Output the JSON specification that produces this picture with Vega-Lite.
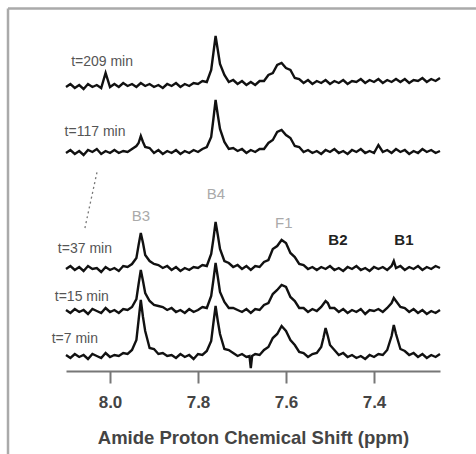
{
"$schema": "https://vega.github.io/schema/vega-lite/v6.json",
"width": 374, "height": 351,
"autosize": {"type": "none"},
"padding": {"left": 66, "top": 20, "right": 36, "bottom": 83},
"background": "white",
"config": {"view": {"stroke": null}, "font": "Liberation Sans"},
"datasets": {
"traces": [
{"s":"7","x":8.1,"y":16},{"s":"7","x":8.09,"y":13},{"s":"7","x":8.08,"y":17},{"s":"7","x":8.07,"y":14},{"s":"7","x":8.06,"y":16},{"s":"7","x":8.05,"y":12},{"s":"7","x":8.04,"y":17},{"s":"7","x":8.03,"y":15},{"s":"7","x":8.02,"y":13},{"s":"7","x":8.01,"y":18},{"s":"7","x":8.0,"y":14},{"s":"7","x":7.99,"y":16},{"s":"7","x":7.98,"y":15},{"s":"7","x":7.97,"y":18},{"s":"7","x":7.96,"y":17},{"s":"7","x":7.95,"y":21},{"s":"7","x":7.94,"y":31},{"s":"7","x":7.935,"y":51},{"s":"7","x":7.93,"y":71},{"s":"7","x":7.925,"y":54},{"s":"7","x":7.92,"y":40},{"s":"7","x":7.91,"y":23},{"s":"7","x":7.9,"y":22},{"s":"7","x":7.89,"y":17},{"s":"7","x":7.88,"y":18},{"s":"7","x":7.87,"y":15},{"s":"7","x":7.86,"y":16},{"s":"7","x":7.85,"y":13},{"s":"7","x":7.84,"y":17},{"s":"7","x":7.83,"y":14},{"s":"7","x":7.82,"y":16},{"s":"7","x":7.81,"y":12},{"s":"7","x":7.8,"y":17},{"s":"7","x":7.79,"y":16},{"s":"7","x":7.78,"y":20},{"s":"7","x":7.77,"y":30},{"s":"7","x":7.765,"y":48},{"s":"7","x":7.76,"y":65},{"s":"7","x":7.755,"y":50},{"s":"7","x":7.75,"y":37},{"s":"7","x":7.74,"y":22},{"s":"7","x":7.73,"y":21},{"s":"7","x":7.72,"y":18},{"s":"7","x":7.71,"y":15},{"s":"7","x":7.7,"y":17},{"s":"7","x":7.69,"y":14},{"s":"7","x":7.683,"y":15},{"s":"7","x":7.68,"y":3},{"s":"7","x":7.677,"y":15},{"s":"7","x":7.67,"y":17},{"s":"7","x":7.66,"y":16},{"s":"7","x":7.65,"y":21},{"s":"7","x":7.64,"y":24},{"s":"7","x":7.63,"y":33},{"s":"7","x":7.62,"y":37},{"s":"7","x":7.61,"y":45},{"s":"7","x":7.6,"y":40},{"s":"7","x":7.59,"y":31},{"s":"7","x":7.58,"y":26},{"s":"7","x":7.57,"y":19},{"s":"7","x":7.56,"y":18},{"s":"7","x":7.55,"y":14},{"s":"7","x":7.54,"y":17},{"s":"7","x":7.53,"y":18},{"s":"7","x":7.52,"y":24},{"s":"7","x":7.515,"y":33},{"s":"7","x":7.51,"y":43},{"s":"7","x":7.505,"y":35},{"s":"7","x":7.5,"y":26},{"s":"7","x":7.49,"y":21},{"s":"7","x":7.48,"y":16},{"s":"7","x":7.47,"y":18},{"s":"7","x":7.46,"y":14},{"s":"7","x":7.45,"y":16},{"s":"7","x":7.44,"y":13},{"s":"7","x":7.43,"y":15},{"s":"7","x":7.42,"y":12},{"s":"7","x":7.41,"y":16},{"s":"7","x":7.4,"y":14},{"s":"7","x":7.39,"y":17},{"s":"7","x":7.38,"y":16},{"s":"7","x":7.37,"y":21},{"s":"7","x":7.36,"y":35},{"s":"7","x":7.355,"y":46},{"s":"7","x":7.35,"y":37},{"s":"7","x":7.34,"y":22},{"s":"7","x":7.33,"y":20},{"s":"7","x":7.32,"y":16},{"s":"7","x":7.31,"y":18},{"s":"7","x":7.3,"y":14},{"s":"7","x":7.29,"y":17},{"s":"7","x":7.28,"y":13},{"s":"7","x":7.27,"y":16},{"s":"7","x":7.26,"y":14},{"s":"7","x":7.25,"y":17},
{"s":"15","x":8.1,"y":61},{"s":"15","x":8.09,"y":58},{"s":"15","x":8.08,"y":62},{"s":"15","x":8.07,"y":59},{"s":"15","x":8.06,"y":61},{"s":"15","x":8.05,"y":57},{"s":"15","x":8.04,"y":62},{"s":"15","x":8.03,"y":60},{"s":"15","x":8.02,"y":58},{"s":"15","x":8.01,"y":63},{"s":"15","x":8.0,"y":59},{"s":"15","x":7.99,"y":61},{"s":"15","x":7.98,"y":58},{"s":"15","x":7.97,"y":62},{"s":"15","x":7.96,"y":61},{"s":"15","x":7.95,"y":64},{"s":"15","x":7.94,"y":72},{"s":"15","x":7.935,"y":87},{"s":"15","x":7.93,"y":101},{"s":"15","x":7.925,"y":90},{"s":"15","x":7.92,"y":78},{"s":"15","x":7.91,"y":70},{"s":"15","x":7.9,"y":66},{"s":"15","x":7.89,"y":65},{"s":"15","x":7.88,"y":64},{"s":"15","x":7.87,"y":61},{"s":"15","x":7.86,"y":63},{"s":"15","x":7.85,"y":59},{"s":"15","x":7.84,"y":61},{"s":"15","x":7.83,"y":58},{"s":"15","x":7.82,"y":62},{"s":"15","x":7.81,"y":59},{"s":"15","x":7.8,"y":61},{"s":"15","x":7.79,"y":64},{"s":"15","x":7.78,"y":63},{"s":"15","x":7.77,"y":75},{"s":"15","x":7.765,"y":91},{"s":"15","x":7.76,"y":108},{"s":"15","x":7.755,"y":94},{"s":"15","x":7.75,"y":79},{"s":"15","x":7.74,"y":69},{"s":"15","x":7.73,"y":63},{"s":"15","x":7.72,"y":63},{"s":"15","x":7.71,"y":61},{"s":"15","x":7.7,"y":59},{"s":"15","x":7.69,"y":62},{"s":"15","x":7.68,"y":58},{"s":"15","x":7.67,"y":62},{"s":"15","x":7.66,"y":61},{"s":"15","x":7.65,"y":66},{"s":"15","x":7.64,"y":68},{"s":"15","x":7.63,"y":77},{"s":"15","x":7.62,"y":81},{"s":"15","x":7.61,"y":86},{"s":"15","x":7.6,"y":84},{"s":"15","x":7.59,"y":74},{"s":"15","x":7.58,"y":70},{"s":"15","x":7.57,"y":63},{"s":"15","x":7.56,"y":63},{"s":"15","x":7.55,"y":59},{"s":"15","x":7.54,"y":62},{"s":"15","x":7.53,"y":60},{"s":"15","x":7.52,"y":64},{"s":"15","x":7.515,"y":67},{"s":"15","x":7.51,"y":70},{"s":"15","x":7.505,"y":68},{"s":"15","x":7.5,"y":63},{"s":"15","x":7.49,"y":63},{"s":"15","x":7.48,"y":59},{"s":"15","x":7.47,"y":62},{"s":"15","x":7.46,"y":58},{"s":"15","x":7.45,"y":61},{"s":"15","x":7.44,"y":59},{"s":"15","x":7.43,"y":62},{"s":"15","x":7.42,"y":57},{"s":"15","x":7.41,"y":61},{"s":"15","x":7.4,"y":60},{"s":"15","x":7.39,"y":62},{"s":"15","x":7.38,"y":59},{"s":"15","x":7.37,"y":63},{"s":"15","x":7.36,"y":68},{"s":"15","x":7.355,"y":73},{"s":"15","x":7.35,"y":70},{"s":"15","x":7.34,"y":64},{"s":"15","x":7.33,"y":63},{"s":"15","x":7.32,"y":59},{"s":"15","x":7.31,"y":62},{"s":"15","x":7.3,"y":58},{"s":"15","x":7.29,"y":61},{"s":"15","x":7.28,"y":57},{"s":"15","x":7.27,"y":60},{"s":"15","x":7.26,"y":58},{"s":"15","x":7.25,"y":61},
{"s":"37","x":8.1,"y":102},{"s":"37","x":8.09,"y":105},{"s":"37","x":8.08,"y":101},{"s":"37","x":8.07,"y":104},{"s":"37","x":8.06,"y":100},{"s":"37","x":8.05,"y":105},{"s":"37","x":8.04,"y":102},{"s":"37","x":8.03,"y":103},{"s":"37","x":8.02,"y":99},{"s":"37","x":8.01,"y":104},{"s":"37","x":8.0,"y":101},{"s":"37","x":7.99,"y":103},{"s":"37","x":7.98,"y":100},{"s":"37","x":7.97,"y":105},{"s":"37","x":7.96,"y":104},{"s":"37","x":7.95,"y":107},{"s":"37","x":7.94,"y":113},{"s":"37","x":7.935,"y":126},{"s":"37","x":7.93,"y":138},{"s":"37","x":7.925,"y":128},{"s":"37","x":7.92,"y":116},{"s":"37","x":7.91,"y":110},{"s":"37","x":7.9,"y":107},{"s":"37","x":7.89,"y":106},{"s":"37","x":7.88,"y":103},{"s":"37","x":7.87,"y":105},{"s":"37","x":7.86,"y":101},{"s":"37","x":7.85,"y":104},{"s":"37","x":7.84,"y":100},{"s":"37","x":7.83,"y":103},{"s":"37","x":7.82,"y":101},{"s":"37","x":7.81,"y":104},{"s":"37","x":7.8,"y":103},{"s":"37","x":7.79,"y":106},{"s":"37","x":7.78,"y":105},{"s":"37","x":7.77,"y":117},{"s":"37","x":7.765,"y":132},{"s":"37","x":7.76,"y":149},{"s":"37","x":7.755,"y":136},{"s":"37","x":7.75,"y":122},{"s":"37","x":7.74,"y":110},{"s":"37","x":7.73,"y":108},{"s":"37","x":7.72,"y":104},{"s":"37","x":7.71,"y":106},{"s":"37","x":7.7,"y":102},{"s":"37","x":7.69,"y":105},{"s":"37","x":7.68,"y":101},{"s":"37","x":7.67,"y":105},{"s":"37","x":7.66,"y":104},{"s":"37","x":7.65,"y":109},{"s":"37","x":7.64,"y":111},{"s":"37","x":7.63,"y":122},{"s":"37","x":7.62,"y":125},{"s":"37","x":7.61,"y":131},{"s":"37","x":7.6,"y":128},{"s":"37","x":7.59,"y":118},{"s":"37","x":7.58,"y":114},{"s":"37","x":7.57,"y":107},{"s":"37","x":7.56,"y":106},{"s":"37","x":7.55,"y":102},{"s":"37","x":7.54,"y":104},{"s":"37","x":7.53,"y":101},{"s":"37","x":7.52,"y":104},{"s":"37","x":7.51,"y":102},{"s":"37","x":7.5,"y":105},{"s":"37","x":7.49,"y":101},{"s":"37","x":7.48,"y":103},{"s":"37","x":7.47,"y":100},{"s":"37","x":7.46,"y":104},{"s":"37","x":7.45,"y":102},{"s":"37","x":7.44,"y":105},{"s":"37","x":7.43,"y":101},{"s":"37","x":7.42,"y":103},{"s":"37","x":7.41,"y":100},{"s":"37","x":7.4,"y":104},{"s":"37","x":7.39,"y":102},{"s":"37","x":7.38,"y":104},{"s":"37","x":7.37,"y":101},{"s":"37","x":7.36,"y":105},{"s":"37","x":7.355,"y":110},{"s":"37","x":7.35,"y":103},{"s":"37","x":7.34,"y":105},{"s":"37","x":7.33,"y":101},{"s":"37","x":7.32,"y":104},{"s":"37","x":7.31,"y":102},{"s":"37","x":7.3,"y":105},{"s":"37","x":7.29,"y":101},{"s":"37","x":7.28,"y":104},{"s":"37","x":7.27,"y":102},{"s":"37","x":7.26,"y":105},{"s":"37","x":7.25,"y":103},
{"s":"117","x":8.1,"y":218},{"s":"117","x":8.09,"y":221},{"s":"117","x":8.08,"y":217},{"s":"117","x":8.07,"y":220},{"s":"117","x":8.06,"y":216},{"s":"117","x":8.05,"y":221},{"s":"117","x":8.04,"y":219},{"s":"117","x":8.03,"y":222},{"s":"117","x":8.02,"y":217},{"s":"117","x":8.01,"y":220},{"s":"117","x":8.0,"y":218},{"s":"117","x":7.99,"y":221},{"s":"117","x":7.98,"y":218},{"s":"117","x":7.97,"y":220},{"s":"117","x":7.96,"y":219},{"s":"117","x":7.95,"y":222},{"s":"117","x":7.94,"y":225},{"s":"117","x":7.935,"y":228},{"s":"117","x":7.93,"y":235},{"s":"117","x":7.925,"y":229},{"s":"117","x":7.92,"y":224},{"s":"117","x":7.91,"y":223},{"s":"117","x":7.9,"y":218},{"s":"117","x":7.89,"y":221},{"s":"117","x":7.88,"y":217},{"s":"117","x":7.87,"y":220},{"s":"117","x":7.86,"y":218},{"s":"117","x":7.85,"y":221},{"s":"117","x":7.84,"y":217},{"s":"117","x":7.83,"y":220},{"s":"117","x":7.82,"y":218},{"s":"117","x":7.81,"y":221},{"s":"117","x":7.8,"y":219},{"s":"117","x":7.79,"y":222},{"s":"117","x":7.78,"y":224},{"s":"117","x":7.77,"y":234},{"s":"117","x":7.765,"y":252},{"s":"117","x":7.76,"y":271},{"s":"117","x":7.755,"y":256},{"s":"117","x":7.75,"y":242},{"s":"117","x":7.74,"y":229},{"s":"117","x":7.73,"y":222},{"s":"117","x":7.72,"y":223},{"s":"117","x":7.71,"y":220},{"s":"117","x":7.7,"y":222},{"s":"117","x":7.69,"y":218},{"s":"117","x":7.68,"y":221},{"s":"117","x":7.67,"y":219},{"s":"117","x":7.66,"y":222},{"s":"117","x":7.65,"y":222},{"s":"117","x":7.64,"y":228},{"s":"117","x":7.63,"y":231},{"s":"117","x":7.62,"y":239},{"s":"117","x":7.61,"y":241},{"s":"117","x":7.6,"y":236},{"s":"117","x":7.59,"y":233},{"s":"117","x":7.58,"y":225},{"s":"117","x":7.57,"y":224},{"s":"117","x":7.56,"y":219},{"s":"117","x":7.55,"y":221},{"s":"117","x":7.54,"y":218},{"s":"117","x":7.53,"y":220},{"s":"117","x":7.52,"y":217},{"s":"117","x":7.51,"y":221},{"s":"117","x":7.5,"y":219},{"s":"117","x":7.49,"y":222},{"s":"117","x":7.48,"y":218},{"s":"117","x":7.47,"y":220},{"s":"117","x":7.46,"y":217},{"s":"117","x":7.45,"y":221},{"s":"117","x":7.44,"y":219},{"s":"117","x":7.43,"y":222},{"s":"117","x":7.42,"y":218},{"s":"117","x":7.41,"y":220},{"s":"117","x":7.4,"y":218},{"s":"117","x":7.39,"y":226},{"s":"117","x":7.38,"y":219},{"s":"117","x":7.37,"y":221},{"s":"117","x":7.36,"y":218},{"s":"117","x":7.35,"y":222},{"s":"117","x":7.34,"y":219},{"s":"117","x":7.33,"y":221},{"s":"117","x":7.32,"y":217},{"s":"117","x":7.31,"y":220},{"s":"117","x":7.3,"y":218},{"s":"117","x":7.29,"y":222},{"s":"117","x":7.28,"y":219},{"s":"117","x":7.27,"y":221},{"s":"117","x":7.26,"y":218},{"s":"117","x":7.25,"y":220},
{"s":"209","x":8.1,"y":284},{"s":"209","x":8.09,"y":287},{"s":"209","x":8.08,"y":283},{"s":"209","x":8.07,"y":286},{"s":"209","x":8.06,"y":282},{"s":"209","x":8.05,"y":287},{"s":"209","x":8.04,"y":284},{"s":"209","x":8.03,"y":286},{"s":"209","x":8.02,"y":283},{"s":"209","x":8.01,"y":298},{"s":"209","x":8.0,"y":284},{"s":"209","x":7.99,"y":287},{"s":"209","x":7.98,"y":284},{"s":"209","x":7.97,"y":288},{"s":"209","x":7.96,"y":285},{"s":"209","x":7.95,"y":287},{"s":"209","x":7.94,"y":284},{"s":"209","x":7.93,"y":288},{"s":"209","x":7.92,"y":285},{"s":"209","x":7.91,"y":287},{"s":"209","x":7.9,"y":284},{"s":"209","x":7.89,"y":286},{"s":"209","x":7.88,"y":283},{"s":"209","x":7.87,"y":287},{"s":"209","x":7.86,"y":285},{"s":"209","x":7.85,"y":288},{"s":"209","x":7.84,"y":284},{"s":"209","x":7.83,"y":287},{"s":"209","x":7.82,"y":285},{"s":"209","x":7.81,"y":288},{"s":"209","x":7.8,"y":287},{"s":"209","x":7.79,"y":290},{"s":"209","x":7.78,"y":289},{"s":"209","x":7.77,"y":301},{"s":"209","x":7.765,"y":318},{"s":"209","x":7.76,"y":335},{"s":"209","x":7.755,"y":321},{"s":"209","x":7.75,"y":307},{"s":"209","x":7.74,"y":296},{"s":"209","x":7.73,"y":289},{"s":"209","x":7.72,"y":291},{"s":"209","x":7.71,"y":287},{"s":"209","x":7.7,"y":290},{"s":"209","x":7.69,"y":286},{"s":"209","x":7.68,"y":289},{"s":"209","x":7.67,"y":286},{"s":"209","x":7.66,"y":290},{"s":"209","x":7.65,"y":290},{"s":"209","x":7.64,"y":296},{"s":"209","x":7.63,"y":298},{"s":"209","x":7.62,"y":306},{"s":"209","x":7.61,"y":308},{"s":"209","x":7.6,"y":303},{"s":"209","x":7.59,"y":301},{"s":"209","x":7.58,"y":293},{"s":"209","x":7.57,"y":292},{"s":"209","x":7.56,"y":288},{"s":"209","x":7.55,"y":291},{"s":"209","x":7.54,"y":287},{"s":"209","x":7.53,"y":290},{"s":"209","x":7.52,"y":288},{"s":"209","x":7.51,"y":291},{"s":"209","x":7.5,"y":287},{"s":"209","x":7.49,"y":290},{"s":"209","x":7.48,"y":288},{"s":"209","x":7.47,"y":291},{"s":"209","x":7.46,"y":287},{"s":"209","x":7.45,"y":290},{"s":"209","x":7.44,"y":289},{"s":"209","x":7.43,"y":292},{"s":"209","x":7.42,"y":288},{"s":"209","x":7.41,"y":291},{"s":"209","x":7.4,"y":289},{"s":"209","x":7.39,"y":292},{"s":"209","x":7.38,"y":288},{"s":"209","x":7.37,"y":291},{"s":"209","x":7.36,"y":289},{"s":"209","x":7.35,"y":292},{"s":"209","x":7.34,"y":289},{"s":"209","x":7.33,"y":292},{"s":"209","x":7.32,"y":288},{"s":"209","x":7.31,"y":291},{"s":"209","x":7.3,"y":290},{"s":"209","x":7.29,"y":293},{"s":"209","x":7.28,"y":289},{"s":"209","x":7.27,"y":292},{"s":"209","x":7.26,"y":290},{"s":"209","x":7.25,"y":293}
],
"labels": [
{"x":8.018,"y":309,"t":"t=209 min"},
{"x":8.034,"y":239,"t":"t=117 min"},
{"x":8.057,"y":122,"t":"t=37 min"},
{"x":8.064,"y":74,"t":"t=15 min"},
{"x":8.08,"y":32,"t":"t=7 min"}
],
"graypeaks": [
{"x":7.93,"y":155,"t":"B3"},
{"x":7.759,"y":177,"t":"B4"},
{"x":7.605,"y":148,"t":"F1"}
],
"blackpeaks": [
{"x":7.482,"y":131,"t":"B2"},
{"x":7.332,"y":131,"t":"B1"}
],
"dots": [
{"x":8.0295,"y":199},
{"x":8.057,"y":143}
],
"frametop": [
{"x":8.2318,"y":362.5},
{"x":7.1682,"y":362.5}
],
"frameleft": [
{"x":8.2318,"y":362.5},
{"x":8.2318,"y":-83}
]
},
"layer": [
{
"data": {"name": "traces"},
"mark": {"type": "line", "color": "#111", "strokeWidth": 2.4},
"encoding": {
"x": {"field": "x", "type": "quantitative",
"scale": {"domain": [7.25, 8.1], "reverse": true, "nice": false, "zero": false},
"axis": {"values": [8.0, 7.8, 7.6, 7.4], "format": ".1f", "grid": false,
"tickSize": 12, "tickWidth": 2, "tickColor": "#777", "domainColor": "#777", "domainWidth": 2,
"labelFontSize": 17, "labelFontWeight": "bold", "labelColor": "#444", "labelPadding": 11, "labelFlush": false,
"title": "Amide Proton Chemical Shift (ppm)", "titleFontSize": 18.5, "titleFontWeight": "bold",
"titleColor": "#444", "titleY": 66, "titleBaseline": "middle"}},
"y": {"field": "y", "type": "quantitative", "scale": {"domain": [0, 351], "nice": false, "zero": false}, "axis": null},
"detail": {"field": "s", "type": "nominal"}
}
},
{
"data": {"name": "dots"},
"mark": {"type": "line", "color": "#777", "strokeDash": [2, 3], "strokeWidth": 1.3},
"encoding": {"x": {"field": "x", "type": "quantitative"}, "y": {"field": "y", "type": "quantitative"}}
},
{
"data": {"name": "labels"},
"mark": {"type": "text", "fontSize": 14, "color": "#555", "align": "center", "baseline": "middle"},
"encoding": {"x": {"field": "x", "type": "quantitative"}, "y": {"field": "y", "type": "quantitative"}, "text": {"field": "t"}}
},
{
"data": {"name": "graypeaks"},
"mark": {"type": "text", "fontSize": 15, "color": "#aaa", "align": "center", "baseline": "middle"},
"encoding": {"x": {"field": "x", "type": "quantitative"}, "y": {"field": "y", "type": "quantitative"}, "text": {"field": "t"}}
},
{
"data": {"name": "blackpeaks"},
"mark": {"type": "text", "fontSize": 15, "fontWeight": "bold", "color": "#222", "align": "center", "baseline": "middle"},
"encoding": {"x": {"field": "x", "type": "quantitative"}, "y": {"field": "y", "type": "quantitative"}, "text": {"field": "t"}}
},
{
"data": {"name": "frametop"},
"mark": {"type": "line", "color": "#aaa", "strokeWidth": 2.5},
"encoding": {"x": {"field": "x", "type": "quantitative"}, "y": {"field": "y", "type": "quantitative"}}
},
{
"data": {"name": "frameleft"},
"mark": {"type": "line", "color": "#aaa", "strokeWidth": 2.5, "orient": "vertical"},
"encoding": {"x": {"field": "x", "type": "quantitative"}, "y": {"field": "y", "type": "quantitative"}}
}
]
}
